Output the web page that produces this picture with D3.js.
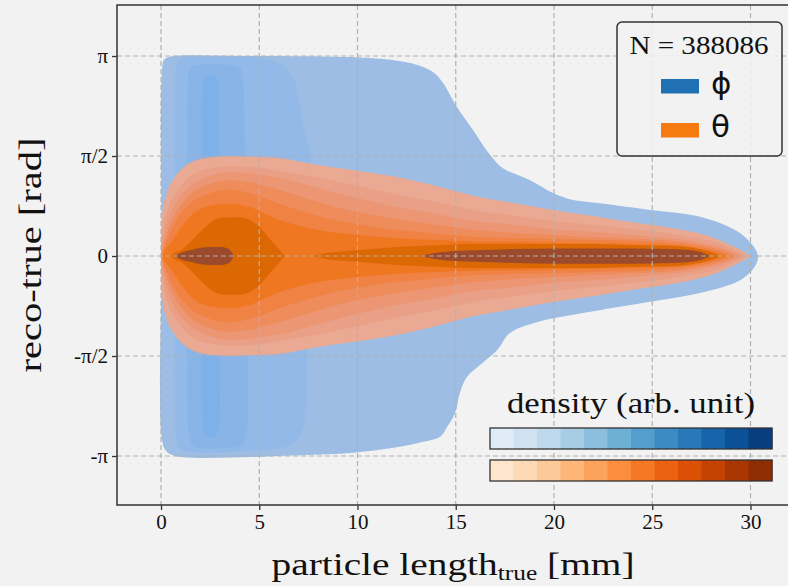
<!DOCTYPE html>
<html><head><meta charset="utf-8">
<script src="https://cdn.jsdelivr.net/npm/d3@7"></script>
<style>body{margin:0;background:#f2f2f2}svg{display:block}</style>
</head><body>
<svg id="chart" width="788" height="586"></svg>
<script>
// ---------- data ----------
const xTicks = [0, 5, 10, 15, 20, 25, 30];
const yTicks = [-Math.PI, -Math.PI / 2, 0, Math.PI / 2, Math.PI];
const yTickLabels = ["-π", "-π/2", "0", "π/2", "π"];
const legendTitle = "N = 388086";
const seriesNames = ["ϕ", "θ"];
const colorbarTitle = "density (arb. unit)";
const colorbarLevels = [0,1,2,3,4,5,6,7,8,9,10,11];

// ϕ density contours (closed outlines, [length mm, reco-true rad]), outer -> inner
const phiLevel1 = [[0.05,2.92],[0.15,3.08],[0.46,3.13],[4.53,3.14],[8.60,3.13],[10.64,3.11],[12.67,3.03],[13.84,2.89],[14.35,2.72],[14.71,2.53],[15.06,2.34],[15.88,1.98],[16.74,1.59],[17.40,1.38],[18.78,1.19],[19.95,0.99],[20.97,0.88],[22.34,0.83],[25.04,0.72],[27.07,0.64],[28.45,0.52],[29.47,0.36],[30.13,0.16],[30.38,0],[30.23,-0.16],[29.47,-0.38],[27.43,-0.58],[24.89,-0.72],[22.34,-0.85],[20.81,-0.93],[19.13,-1.04],[17.76,-1.21],[17.10,-1.48],[16.23,-1.71],[15.57,-1.90],[15.22,-2.14],[14.96,-2.47],[14.55,-2.69],[14.20,-2.84],[13.03,-2.94],[11.65,-3.02],[9.77,-3.09],[7.07,-3.13],[0.71,-3.14],[0.25,-3.06],[0.05,-2.89],[0.03,0]];
const phiLevel2 = [[0.76,2.92],[0.87,3.08],[1.22,3.12],[3.51,3.13],[5.04,3.11],[6.06,3.02],[6.67,2.84],[6.97,2.53],[7.23,2.09],[7.53,1.67],[7.79,0.88],[7.84,0],[7.68,-1.01],[7.48,-1.40],[7.38,-2.26],[7.28,-2.65],[6.97,-2.86],[6.31,-3.00],[4.53,-3.06],[1.48,-3.08],[0.92,-3.02],[0.76,-2.81],[0.71,0]];
const phiLevel3 = [[1.37,2.76],[1.48,2.95],[1.98,3.01],[3.51,3.00],[4.02,2.95],[4.17,2.76],[4.27,1.82],[4.38,0],[4.43,-1.95],[4.38,-2.73],[4.12,-2.97],[3.00,-3.02],[1.73,-3.00],[1.48,-2.89],[1.42,0]];
const phiLevel4 = [[2.14,2.69],[2.29,2.83],[2.60,2.84],[2.85,2.80],[2.90,2.61],[2.95,1.67],[3.00,0],[3.00,-2.26],[2.95,-2.73],[2.70,-2.84],[2.34,-2.84],[2.14,-2.70],[2.09,-2.26],[2.04,0],[2.09,1.67]];

// θ density contours (half-widths about 0, [length mm, rad]), outer -> inner
const thetaLevel1 = [[0,0.30],[0.05,0.61],[0.3,0.99],[0.6,1.19],[1.1,1.38],[1.8,1.51],[2.8,1.56],[3.5,1.57],[4.5,1.56],[6,1.54],[8,1.43],[10,1.34],[12,1.24],[14,1.10],[16,0.94],[18,0.83],[20,0.72],[22,0.63],[24,0.53],[26,0.44],[27,0.38],[28,0.30],[29,0.17],[29.6,0.08],[30,0]];
const thetaLevel2 = [[0,0.15],[0.1,0.45],[0.4,0.78],[0.8,1.02],[1.5,1.25],[2.5,1.38],[3.5,1.41],[4.5,1.40],[6,1.34],[8,1.23],[10,1.10],[12,0.97],[14,0.85],[16,0.72],[18,0.63],[20,0.55],[22,0.49],[24,0.42],[26,0.35],[27,0.30],[28,0.24],[29,0.13],[29.8,0]];
const thetaLevel3 = [[0,0.08],[0.15,0.32],[0.4,0.60],[0.8,0.85],[1.5,1.10],[2.5,1.26],[3.5,1.32],[4.5,1.30],[6,1.23],[8,1.07],[10,0.91],[12,0.77],[14,0.66],[16,0.55],[18,0.49],[20,0.42],[22,0.38],[24,0.33],[26,0.28],[27,0.24],[28,0.17],[29,0.08],[29.6,0]];
const thetaLevel4 = [[0,0.03],[0.15,0.19],[0.4,0.44],[0.8,0.69],[1.5,0.97],[2.5,1.13],[3.5,1.19],[4.5,1.16],[6,1.04],[8,0.85],[10,0.69],[12,0.58],[14,0.49],[16,0.41],[18,0.36],[20,0.33],[22,0.30],[24,0.27],[26,0.24],[27,0.20],[28,0.14],[29,0.05],[29.4,0]];
const thetaLevel5 = [[0.05,0],[0.15,0.13],[0.4,0.31],[0.8,0.57],[1.5,0.83],[2.5,0.99],[3.5,1.04],[4.5,0.99],[6,0.82],[8,0.63],[10,0.50],[12,0.41],[14,0.35],[16,0.30],[18,0.28],[20,0.27],[22,0.25],[24,0.24],[26,0.20],[27,0.17],[28,0.11],[29,0.02],[29.2,0]];
const thetaLevel6 = [[0.1,0],[0.15,0.06],[0.4,0.16],[0.8,0.35],[1.5,0.63],[2.5,0.79],[3.5,0.82],[4.5,0.77],[6,0.57],[8,0.41],[10,0.33],[12,0.28],[14,0.25],[16,0.23],[18,0.22],[20,0.21],[22,0.20],[24,0.19],[26,0.17],[27,0.14],[28,0.08],[28.9,0]];
const thetaLevel7a = [[0.5,0],[0.7,0.05],[1.0,0.09],[1.5,0.22],[2.0,0.38],[2.5,0.52],[3.0,0.60],[3.5,0.61],[4.0,0.61],[4.5,0.57],[5.0,0.46],[5.5,0.28],[6.0,0.11],[6.3,0]];
const thetaLevel7b = [[7.6,0],[8.5,0.05],[10,0.09],[12,0.14],[14,0.17],[16,0.19],[18,0.19],[20,0.19],[22,0.19],[24,0.17],[26,0.16],[27,0.13],[28,0.06],[28.5,0]];
const thetaLevel8a = [[0.7,0],[1.0,0.05],[1.5,0.09],[2.0,0.13],[2.5,0.14],[3.0,0.14],[3.4,0.12],[3.6,0.06],[3.7,0]];
const thetaLevel8b = [[13.2,0],[14,0.05],[15,0.08],[16,0.09],[18,0.11],[20,0.12],[22,0.12],[24,0.12],[26,0.11],[27,0.09],[27.5,0.06],[27.95,0]];

// ---------- styles ----------
const phiColors = ["#9dbde5", "#92b9e7", "#88b4e8", "#7eb0e9"];
const thetaColors = ["#e9a992", "#eaa086", "#ec9674", "#ee8c5c", "#f08244", "#ef7720", "#dc6804", "#9b4b2c"];
const serif = "'Liberation Serif', 'Times New Roman', serif";

const svg = d3.select("#chart");
svg.append("rect").attr("width", 788).attr("height", 586).attr("fill", "#f2f2f2");

const L = 117, R = 789, T = 5, B = 505;
const x = d3.scaleLinear().domain([-2.24, 31.96]).range([L, R]);
const y = d3.scaleLinear().domain([-3.911, 3.943]).range([B, T]);

svg.append("clipPath").attr("id", "plotclip")
  .append("rect").attr("x", L).attr("y", T).attr("width", R - L).attr("height", B - T);
const plot = svg.append("g").attr("clip-path", "url(#plotclip)");

// ϕ contours
const outline = d3.line().x(d => x(d[0])).y(d => y(d[1])).curve(d3.curveCatmullRomClosed.alpha(0.5));
[phiLevel1, phiLevel2, phiLevel3, phiLevel4].forEach((lvl, i) => {
  plot.append("path").attr("d", outline(lvl)).attr("fill", phiColors[i]);
});

// θ contours
const band = d3.area().x(d => x(d[0])).y0(d => y(-d[1])).y1(d => y(d[1])).curve(d3.curveMonotoneX);
const thetaLevels = [[thetaLevel1], [thetaLevel2], [thetaLevel3], [thetaLevel4], [thetaLevel5], [thetaLevel6], [thetaLevel7a, thetaLevel7b], [thetaLevel8a, thetaLevel8b]];
thetaLevels.forEach((pieces, i) => {
  pieces.forEach(p => plot.append("path").attr("d", band(p)).attr("fill", thetaColors[i]));
});

// grid
const grid = svg.append("g").attr("stroke", "#b0b0b0").attr("stroke-width", 1.2).attr("stroke-dasharray", "5,3");
xTicks.forEach(t => grid.append("line").attr("x1", x(t)).attr("x2", x(t)).attr("y1", T).attr("y2", B));
yTicks.forEach(t => grid.append("line").attr("x1", L).attr("x2", R).attr("y1", y(t)).attr("y2", y(t)));

// frame
svg.append("rect").attr("x", L).attr("y", T).attr("width", R - L).attr("height", B - T)
  .attr("fill", "none").attr("stroke", "#333").attr("stroke-width", 1.5);

// axes
const xAxis = svg.append("g").attr("transform", `translate(0,${B})`)
  .call(d3.axisBottom(x).tickValues(xTicks).tickSize(5).tickPadding(4).tickFormat(d3.format("d")));
const yAxis = svg.append("g").attr("transform", `translate(${L},0)`)
  .call(d3.axisLeft(y).tickValues(yTicks).tickSize(5).tickPadding(4).tickFormat((d, i) => yTickLabels[i]));
[xAxis, yAxis].forEach(a => {
  a.select(".domain").remove();
  a.selectAll(".tick line").attr("stroke", "#333").attr("stroke-width", 1.3);
  a.selectAll(".tick text").attr("fill", "#111").style("font-family", serif).style("font-size", "21px");
});

// axis labels
const xl = svg.append("text").attr("x", (L + R) / 2).attr("y", 575).attr("text-anchor", "middle")
  .style("font-family", serif).style("font-size", "31px").attr("fill", "#111")
  .attr("textLength", 363).attr("lengthAdjust", "spacingAndGlyphs");
xl.append("tspan").text("particle length");
xl.append("tspan").text("true").style("font-size", "20px").attr("dy", 5);
xl.append("tspan").text(" [mm]").attr("dy", -5);

svg.append("text").attr("transform", "translate(41,255) rotate(-90)").attr("text-anchor", "middle")
  .style("font-family", serif).style("font-size", "32px").attr("fill", "#111")
  .attr("textLength", 235).attr("lengthAdjust", "spacingAndGlyphs")
  .text("reco-true [rad]");

// legend
const lg = svg.append("g");
lg.append("rect").attr("x", 617).attr("y", 22).attr("width", 165).attr("height", 134).attr("rx", 5)
  .attr("fill", "#f2f2f2").attr("fill-opacity", 0.85).attr("stroke", "#333").attr("stroke-width", 1.5);
lg.append("text").attr("x", 699).attr("y", 54).attr("text-anchor", "middle")
  .style("font-family", serif).style("font-size", "26px").attr("fill", "#111")
  .attr("textLength", 139).attr("lengthAdjust", "spacingAndGlyphs").text(legendTitle);
const legendColors = ["#1f71b3", "#f57a0f"];
seriesNames.forEach((s, i) => {
  const yy = [79, 123][i];
  lg.append("rect").attr("x", 661).attr("y", yy).attr("width", 38).attr("height", 14.5).attr("fill", legendColors[i]);
  lg.append("text").attr("x", 711).attr("y", [94, 137][i])
    .style("font-family", "'DejaVu Sans', sans-serif").style("font-size", "31px").attr("fill", "#111").text(s);
});

// colorbars
svg.append("text").attr("x", 631).attr("y", 413).attr("text-anchor", "middle")
  .style("font-family", serif).style("font-size", "29px").attr("fill", "#111")
  .attr("textLength", 248).attr("lengthAdjust", "spacingAndGlyphs").text(colorbarTitle);
const cb = d3.scaleBand().domain(colorbarLevels).range([490, 772]);
const cbars = [{y0: 428, interp: d3.interpolateBlues}, {y0: 460, interp: d3.interpolateOranges}];
cbars.forEach(c => {
  const g = svg.append("g");
  colorbarLevels.forEach(l => {
    g.append("rect").attr("x", cb(l)).attr("y", c.y0).attr("width", cb.bandwidth() + 0.5).attr("height", 21)
      .attr("fill", c.interp(0.12 + l * (0.95 - 0.12) / 11));
  });
  g.append("rect").attr("x", 490).attr("y", c.y0).attr("width", 282).attr("height", 21)
    .attr("fill", "none").attr("stroke", "#333").attr("stroke-width", 1.3);
});
</script>
</body></html>
